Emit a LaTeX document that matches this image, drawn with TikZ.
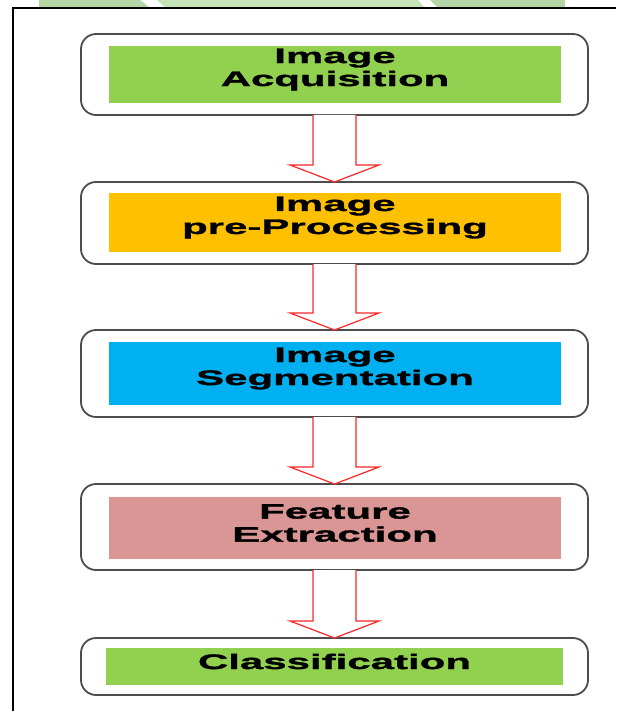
\documentclass[tikz,border=0pt]{standalone}
\usepackage{fontspec}
\newfontfamily\stepfont[FakeStretch=2.0, FakeBold=1.5]{Liberation Sans Bold}
\usetikzlibrary{calc}
\definecolor{StepGreen}{HTML}{92D050}
\definecolor{StepOrange}{HTML}{FFC000}
\definecolor{StepBlue}{HTML}{00B0F0}
\definecolor{StepPink}{HTML}{D99694}
\definecolor{MarkDark}{HTML}{B4D6A4}
\definecolor{MarkLight}{HTML}{C5E4B6}

\tikzset{
  stepframe/.style={draw=black!70, line width=1.8pt, rounded corners=15pt,
    fill=white, minimum width=507pt, inner sep=0pt, outer sep=0pt},
  stepfill/.style={minimum width=452pt, inner sep=0pt, outer sep=0pt},
  steptext/.style={font=\stepfont\fontsize{21}{23}\selectfont, align=center,
    yshift=5pt, inner sep=0pt},
  flowarrow/.style={draw=red!85, fill=white, line width=1.2pt, line join=miter},
}

% block arrow from the bottom of #1 to the top of #2
\newcommand\flowarrowpath[2]{%
  \draw[flowarrow] ($(#1.south)+(-21.5,0)$) -- ($(#2.north)+(-21.5,-17)$)
    -- ($(#2.north)+(-44.5,-17)$) -- (#2.north) -- ($(#2.north)+(44.5,-17)$)
    -- ($(#2.north)+(21.5,-17)$) -- ($(#1.south)+(21.5,0)$);}

\begin{document}
\begin{tikzpicture}[x=1pt, y=-1pt]
  \useasboundingbox (0,0) rectangle (616,711);
  % Watermark remnant along the top edge
  \fill[MarkDark] (39,0) -- (140,0) -- (149,7) -- (39,7) -- cycle;
  \fill[MarkLight] (157,0) -- (418,0) -- (424,7) -- (165,7) -- cycle;
  \fill[MarkDark] (430,0) -- (565,0) -- (565,7) -- (437,7) -- cycle;
  % Frame (left and top only)
  \draw[line width=2pt] (12.5,711) -- (12.5,8.5) -- (616,8.5);
  % Step 1: acquisition
  \node[stepframe, minimum height=81pt] (acq) at (334.5,74.5) {};
  \node[stepfill, fill=StepGreen, minimum height=57pt] (acqfill) at (335,74.5) {};
  \node[steptext] at (acqfill) {Image\\Acquisition};
  % Step 2: pre-processing
  \node[stepframe, minimum height=82pt] (pre) at (334.5,223) {};
  \node[stepfill, fill=StepOrange, minimum height=59pt] (prefill) at (335,222.5) {};
  \node[steptext] at (prefill) {Image\\pre-Processing};
  % Step 3: segmentation
  \node[stepframe, minimum height=87pt] (seg) at (334.5,373.5) {};
  \node[stepfill, fill=StepBlue, minimum height=63pt] (segfill) at (335,373.5) {};
  \node[steptext] at (segfill) {Image\\Segmentation};
  % Step 4: feature extraction
  \node[stepframe, minimum height=86pt] (feat) at (334.5,527) {};
  \node[stepfill, fill=StepPink, minimum height=62pt] (featfill) at (335,528) {};
  \node[steptext] at (featfill) {Feature\\Extraction};
  % Step 5: classification
  \node[stepframe, minimum height=57pt] (cls) at (334.5,666.5) {};
  \node[stepfill, fill=StepGreen, minimum height=37pt, minimum width=457pt] (clsfill) at (334.5,666.5) {};
  \node[steptext] at (clsfill) {Classification};
  % Block arrows between the steps
  \flowarrowpath{acq}{pre}
  \flowarrowpath{pre}{seg}
  \flowarrowpath{seg}{feat}
  \flowarrowpath{feat}{cls}
\end{tikzpicture}
\end{document}
